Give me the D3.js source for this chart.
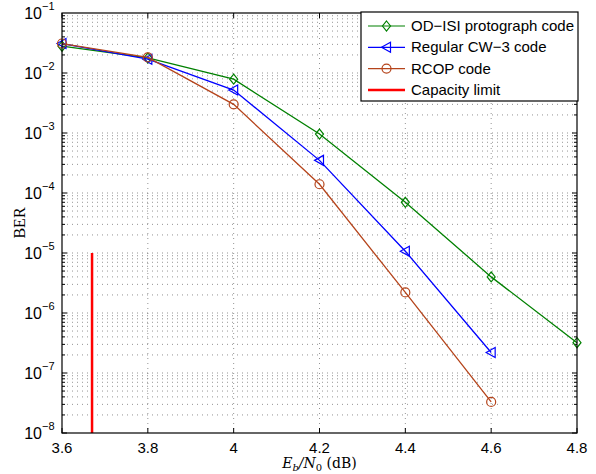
<!DOCTYPE html>
<html>
<head>
<meta charset="utf-8">
<script src="https://cdn.jsdelivr.net/npm/d3@7"></script>
<style>
  body { margin: 0; background: #fff; }
  text { font-family: "Liberation Sans", Arial, sans-serif; }
</style>
</head>
<body>
<div id="chart"></div>
<script>
const ebno = [3.6, 3.8, 4.0, 4.2, 4.4, 4.6, 4.8];
const odIsi = [0.028, 0.0178, 0.0079, 9.6e-4, 7.0e-5, 4.0e-6, 3.2e-7];
const cw3 = [0.031, 0.017, 5.2e-3, 3.5e-4, 1.07e-5, 2.2e-7];
const rcop = [0.031, 0.0182, 3.0e-3, 1.4e-4, 2.2e-6, 3.3e-8];
const capacityX = 3.67;
const capacityY = [1e-5, 1e-8];
const xTicks = [3.6, 3.8, 4, 4.2, 4.4, 4.6, 4.8];
const yExps = [-1, -2, -3, -4, -5, -6, -7, -8];

const W = 596, H = 474;
const margin = {top: 13, right: 19, bottom: 41, left: 62};
const width = W - margin.left - margin.right;
const height = H - margin.top - margin.bottom;

const svg = d3.select('#chart').append('svg')
    .attr('width', W)
    .attr('height', H);

const chart = svg.append('g')
    .attr('transform', `translate(${margin.left}, ${margin.top})`);

const x = d3.scaleLinear().domain([3.6, 4.8]).range([0, width]);
const y = d3.scaleLog().domain([1e-8, 1e-1]).range([height, 0]);

// grid: vertical at major x ticks, horizontal at every decade and minor
const minorY = [];
for (let e = -8; e < -1; e++) {
    for (let m = 1; m < 10; m++) minorY.push(m * Math.pow(10, e));
}
chart.append('g').selectAll('line')
    .data(minorY.filter(v => v > 1e-8))
    .enter().append('line')
    .attr('x1', 0).attr('x2', width)
    .attr('y1', d => y(d)).attr('y2', d => y(d))
    .attr('stroke', '#666').attr('stroke-width', 0.7)
    .attr('stroke-dasharray', '1,4');
chart.append('g').selectAll('line')
    .data(xTicks.slice(1, -1))
    .enter().append('line')
    .attr('x1', d => x(d)).attr('x2', d => x(d))
    .attr('y1', 0).attr('y2', height)
    .attr('stroke', '#666').attr('stroke-width', 0.7)
    .attr('stroke-dasharray', '1,4');

// ticks (inward, all four sides)
const ticks = chart.append('g').attr('stroke', '#000').attr('stroke-width', 1);
xTicks.forEach(t => {
    ticks.append('line').attr('x1', x(t)).attr('x2', x(t)).attr('y1', height).attr('y2', height - 5);
    ticks.append('line').attr('x1', x(t)).attr('x2', x(t)).attr('y1', 0).attr('y2', 5);
});
minorY.forEach(v => {
    const isMajor = Math.abs(Math.log10(v) - Math.round(Math.log10(v))) < 1e-9;
    const len = isMajor ? 5 : 3;
    ticks.append('line').attr('x1', 0).attr('x2', len).attr('y1', y(v)).attr('y2', y(v));
    ticks.append('line').attr('x1', width).attr('x2', width - len).attr('y1', y(v)).attr('y2', y(v));
});

// tick labels
chart.append('g').selectAll('text')
    .data(xTicks)
    .enter().append('text')
    .attr('x', d => x(d))
    .attr('y', height + 20)
    .attr('text-anchor', 'middle')
    .style('font-size', '15px')
    .text(d => d3.format('')(d));

const yl = chart.append('g').selectAll('g')
    .data(yExps)
    .enter().append('g')
    .attr('transform', d => `translate(-8, ${y(Math.pow(10, d)) + 6})`);
yl.append('text')
    .attr('x', -12).attr('text-anchor', 'end')
    .style('font-size', '16px').text('10');
yl.append('text')
    .attr('x', -12).attr('y', -9)
    .style('font-size', '11px')
    .text(d => '\u2212' + Math.abs(d));

// axis labels
const xl = svg.append('text')
    .attr('x', margin.left + width / 2)
    .attr('y', 468)
    .attr('text-anchor', 'middle')
    .style('font-family', '"DejaVu Serif", "Liberation Serif", serif')
    .style('font-size', '14px');
xl.append('tspan').style('font-style', 'italic').text('E');
xl.append('tspan').attr('dy', 3).style('font-size', '10px').style('font-style', 'italic').text('b');
xl.append('tspan').attr('dy', -3).style('font-style', 'italic').text('/N');
xl.append('tspan').attr('dy', 3).style('font-size', '10px').text('0');
xl.append('tspan').attr('dy', -3).text(' (dB)');

svg.append('text')
    .attr('transform', `translate(25, ${margin.top + height / 2}) rotate(-90)`)
    .attr('text-anchor', 'middle')
    .style('font-family', '"Liberation Serif", serif')
    .style('font-size', '16px')
    .text('BER');

// series
const series = [
    {name: 'OD\u2212ISI protograph code', values: odIsi, color: '#008000', marker: 'diamond'},
    {name: 'Regular CW\u22123 code', values: cw3, color: '#0000ff', marker: 'triangle'},
    {name: 'RCOP code', values: rcop, color: '#b5441b', marker: 'circle'}
];

function drawMarker(g, type, color) {
    if (type === 'diamond') {
        g.append('path').attr('d', 'M0,-5L4,0L0,5L-4,0Z');
    } else if (type === 'triangle') {
        g.append('path').attr('d', 'M-5,0L4,-5L4,5Z');
    } else {
        g.append('circle').attr('r', 4.5);
    }
    g.selectAll('path,circle').attr('fill', 'none').attr('stroke', color).attr('stroke-width', 1.2);
}

const line = d3.line().x(d => x(d[0])).y(d => y(d[1]));
series.forEach(s => {
    const pts = s.values.map((v, i) => [ebno[i], v]);
    chart.append('path')
        .datum(pts)
        .attr('d', line)
        .attr('fill', 'none')
        .attr('stroke', s.color)
        .attr('stroke-width', 1.3);
    pts.forEach(p => {
        const g = chart.append('g').attr('transform', `translate(${x(p[0])}, ${y(p[1])})`);
        drawMarker(g, s.marker, s.color);
    });
});

// capacity limit
chart.append('line')
    .attr('x1', x(capacityX)).attr('x2', x(capacityX))
    .attr('y1', y(capacityY[0])).attr('y2', y(capacityY[1]))
    .attr('stroke', '#ff0000').attr('stroke-width', 2.5);

// frame
chart.append('rect')
    .attr('width', width).attr('height', height)
    .attr('fill', 'none').attr('stroke', '#000').attr('stroke-width', 1.2);

// legend
const lg = svg.append('g').attr('transform', 'translate(361, 12)');
lg.append('rect').attr('width', 217).attr('height', 89)
    .attr('fill', '#fff').attr('stroke', '#000').attr('stroke-width', 1.2);
const entries = series.concat([{name: 'Capacity limit', color: '#ff0000', marker: null}]);
entries.forEach((s, i) => {
    const yy = 14 + i * 21.3;
    lg.append('line').attr('x1', 7).attr('x2', 44).attr('y1', yy).attr('y2', yy)
        .attr('stroke', s.color).attr('stroke-width', s.marker ? 1.2 : 2.5);
    if (s.marker) {
        const g = lg.append('g').attr('transform', `translate(25.5, ${yy})`);
        drawMarker(g, s.marker, s.color);
    }
    lg.append('text').attr('x', 50).attr('y', yy + 5)
        .style('font-size', '15px').text(s.name);
});
</script>
</body>
</html>
